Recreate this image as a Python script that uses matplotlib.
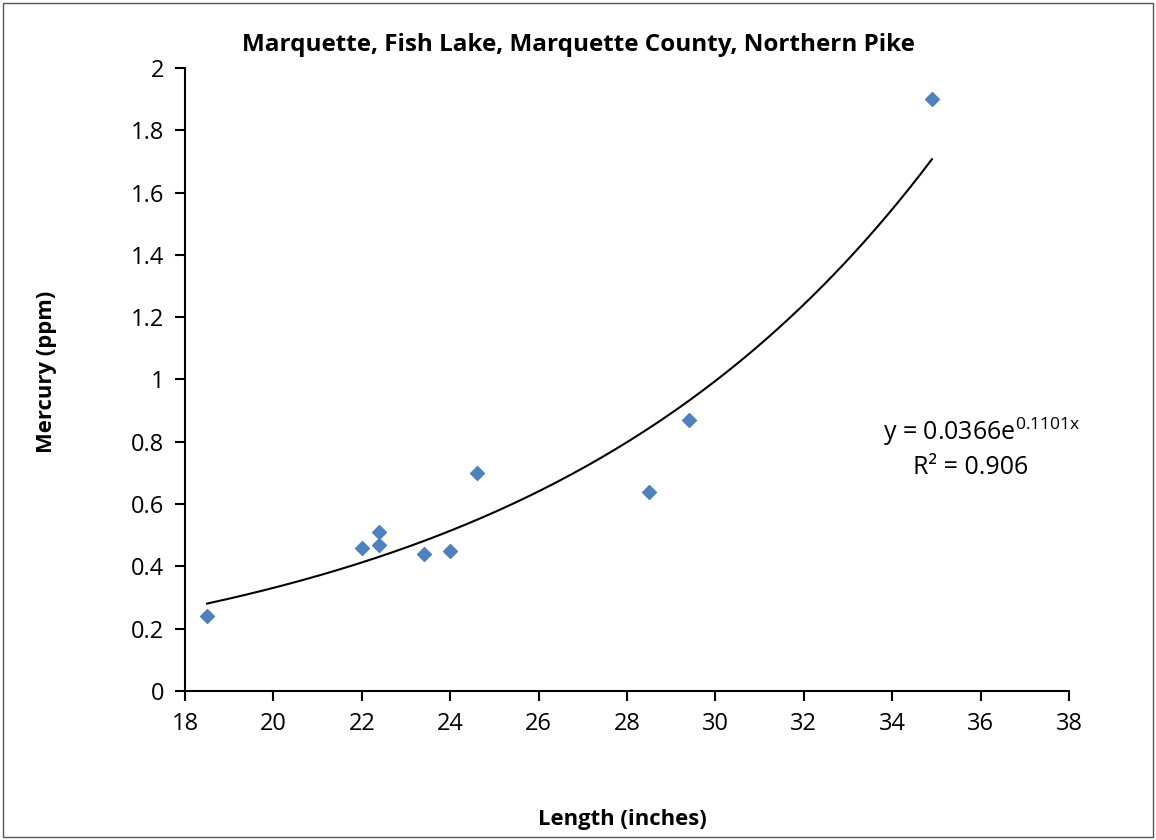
import numpy as np
import matplotlib
matplotlib.use("Agg")
import matplotlib.pyplot as plt
from matplotlib.patches import Rectangle

plt.rcParams['font.family'] = ['Open Sans', 'DejaVu Sans']
plt.rcParams['mathtext.fontset'] = 'custom'
plt.rcParams['mathtext.rm'] = 'Open Sans'

# fish length (inches) and mercury (ppm)
length = [18.5, 22.0, 22.4, 22.4, 23.4, 24.0, 24.6, 28.5, 29.4, 34.9]
mercury = [0.24, 0.46, 0.51, 0.47, 0.44, 0.45, 0.70, 0.64, 0.87, 1.90]

# exponential trend y = a*exp(b*x)
a = 0.0366
b = 0.1101
r2 = 0.906

fig = plt.figure(figsize=(11.56, 8.40), dpi=100)
ax = fig.add_axes([0.160, 0.1774, 0.7647, 0.7417])

xt = np.linspace(min(length), max(length), 200)
ax.plot(xt, a * np.exp(b * xt), color='black', lw=1.5)
ax.scatter(length, mercury, marker='D', s=50, color='#4F81BD', zorder=3)

ax.set_xlim(18, 38)
ax.set_ylim(0, 2)
ax.set_xticks(np.arange(18, 39, 2))
ax.set_yticks(np.arange(0, 2.01, 0.2))
ax.set_yticklabels(['0', '0.2', '0.4', '0.6', '0.8', '1', '1.2', '1.4', '1.6', '1.8', '2'])
ax.spines['top'].set_visible(False)
ax.spines['right'].set_visible(False)
ax.spines['left'].set_linewidth(1.5)
ax.spines['bottom'].set_linewidth(1.5)
ax.tick_params(direction='out', length=7, width=1.5, labelsize=17, pad=8)

fig.text(0.5, 0.946, 'Marquette, Fish Lake, Marquette County, Northern Pike',
         ha='center', va='center', fontsize=17.5, fontweight='bold')
fig.text(0.538, 0.024, 'Length (inches)', ha='center', va='center',
         fontsize=15.8, fontweight='bold')
fig.text(0.040, 0.557, 'Mercury (ppm)', ha='center', va='center',
         rotation=90, fontsize=15.8, fontweight='bold')

fig.text(0.764, 0.486, r'y = 0.0366e$^{\mathrm{0.1101x}}$', ha='left', va='center', fontsize=18)
fig.text(0.84, 0.444, 'R² = %.3f' % r2, ha='center', va='center', fontsize=18)

fig.patches.append(Rectangle((0.003, 0.003), 0.994, 0.994, transform=fig.transFigure,
                             fill=False, edgecolor='#555555', lw=1))

fig.savefig('out.png', dpi=100)
